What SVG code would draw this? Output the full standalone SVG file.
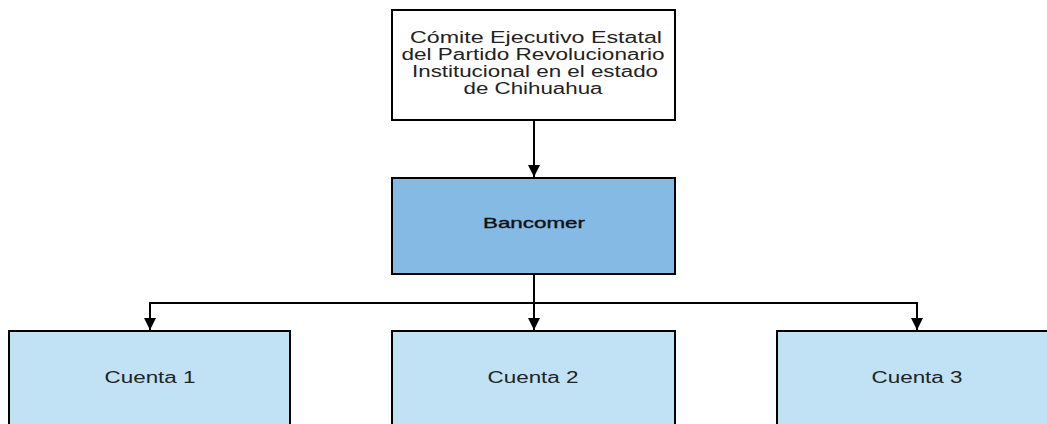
<svg xmlns="http://www.w3.org/2000/svg" width="1047" height="424" viewBox="0 0 1047 424">
<defs>
<style>
.box{stroke:#000;stroke-width:2}
.t{font-family:"Liberation Sans",Arial,sans-serif;font-size:16px;fill:#222;text-anchor:middle}
.b{font-size:15px;fill:#111;stroke:#111;stroke-width:0.35}
.c{fill:none;stroke:#000;stroke-width:2}
</style>
<marker id="ah" markerWidth="12" markerHeight="12" refX="12" refY="6" orient="auto" markerUnits="userSpaceOnUse">
<path d="M0,0 L12,6 L0,12 Z" fill="#000"/>
</marker>
</defs>
<rect width="1047" height="424" fill="#fff"/>
<g id="connectors">
<path class="c" d="M534,121 V177" marker-end="url(#ah)"/>
<path class="c" d="M534,274 V330" marker-end="url(#ah)"/>
<path class="c" d="M150,330 V303 H917 V330" marker-end="url(#ah)"/>
<path class="c" d="M150,303 V330" marker-end="url(#ah)"/>
</g>
<g id="comite">
<rect class="box" x="392" y="10" width="283" height="110" fill="#fff"/>
<text class="t" x="536" y="43" textLength="252" lengthAdjust="spacingAndGlyphs">Cómite Ejecutivo Estatal</text>
<text class="t" x="533" y="60" textLength="263" lengthAdjust="spacingAndGlyphs">del Partido Revolucionario</text>
<text class="t" x="535" y="77" textLength="246" lengthAdjust="spacingAndGlyphs">Institucional en el estado</text>
<text class="t" x="533" y="94" textLength="139" lengthAdjust="spacingAndGlyphs">de Chihuahua</text>
</g>
<g id="bancomer">
<rect class="box" x="392" y="178" width="283" height="96" fill="#85bae4"/>
<text class="t b" x="534" y="228" textLength="102" lengthAdjust="spacingAndGlyphs">Bancomer</text>
</g>
<g id="cuenta1">
<rect class="box" x="9" y="331" width="281" height="110" fill="#c1e2f5"/>
<text class="t" x="150" y="383" textLength="91" lengthAdjust="spacingAndGlyphs">Cuenta 1</text>
</g>
<g id="cuenta2">
<rect class="box" x="392" y="331" width="283" height="110" fill="#c1e2f5"/>
<text class="t" x="533" y="383" textLength="91" lengthAdjust="spacingAndGlyphs">Cuenta 2</text>
</g>
<g id="cuenta3">
<rect class="box" x="777" y="331" width="281" height="110" fill="#c1e2f5"/>
<text class="t" x="917" y="383" textLength="91" lengthAdjust="spacingAndGlyphs">Cuenta 3</text>
</g>
</svg>
